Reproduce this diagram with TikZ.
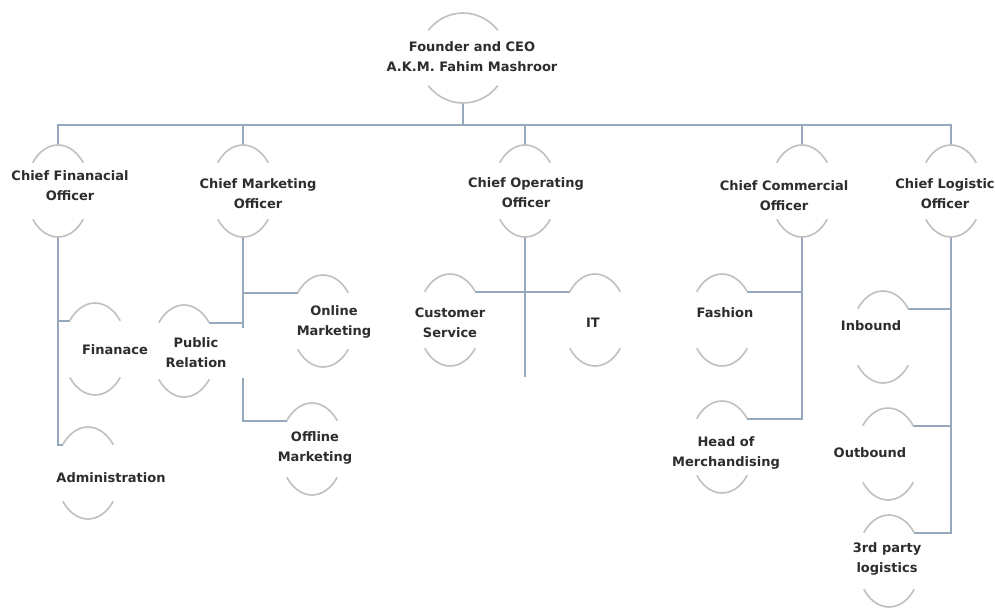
\documentclass[tikz,border=0pt]{standalone}
\usepackage{fontspec}
\setmainfont{DejaVu Sans}
\usetikzlibrary{shapes.geometric}
\definecolor{connc}{RGB}{150,168,188}
\definecolor{arcc}{RGB}{192,192,192}
\definecolor{txtc}{RGB}{45,45,45}
\newcommand\twoarcs[3]{%
  \draw[arcline] ([shift={(38:#2pt and #3pt)}]#1.center) arc[start angle=38,end angle=142,x radius=#2pt,y radius=#3pt];
  \draw[arcline] ([shift={(218:#2pt and #3pt)}]#1.center) arc[start angle=218,end angle=322,x radius=#2pt,y radius=#3pt];}
\begin{document}
\begin{tikzpicture}[x=1pt,y=-1pt,
  hub/.style={ellipse,draw=none,inner sep=0pt,outer sep=0pt,minimum width=64pt,minimum height=92pt},
  conn/.style={draw=connc,line width=1.4pt},
  arcline/.style={draw=arcc,line width=1.6pt},
  txt/.style={font=\fontsize{13}{20}\selectfont\bfseries,text=txtc,align=center,inner sep=0pt}]
\fill[white] (0,0) rectangle (995,611);
\useasboundingbox (0,0) rectangle (995,611);
% circle hubs
\node[hub,minimum width=88pt,minimum height=90pt] (ceo) at (463,58) {};
\node[hub] (cfo) at (58,191) {};
\node[hub] (cmo) at (243,191) {};
\node[hub] (coo) at (525,191) {};
\node[hub] (cco) at (802,191) {};
\node[hub] (clo) at (951,191) {};
\node[hub] (fin) at (95,349) {};
\node[hub] (adm) at (88,473) {};
\node[hub] (pr) at (184,351) {};
\node[hub] (onl) at (323,321) {};
\node[hub] (off) at (312,449) {};
\node[hub] (cs) at (450,320) {};
\node[hub] (it) at (595,320) {};
\node[hub] (fas) at (722,320) {};
\node[hub] (hom) at (722,447) {};
\node[hub] (inb) at (883,337) {};
\node[hub] (outb) at (888,454) {};
\node[hub] (tpl) at (889,561) {};
\coordinate (bus) at (0,125);
\coordinate (cooend) at (525,377);
% connectors
\foreach \n in {cfo,cmo,coo,cco,clo}
  \draw[conn] (ceo.south) -- (ceo.south |- bus) -| (\n.north);
\draw[conn] (cfo.south) |- (fin.132);
\draw[conn] (cfo.south) |- (adm.132);
\draw[conn] (cmo.south) |- (pr.48);
\draw[conn] (cmo.south) |- (onl.132);
\draw[conn] (cmo.south) |- (off.132);
\draw[conn] (coo.south) -- (cooend);
\draw[conn] (coo.south) |- (cs.48);
\draw[conn] (coo.south) |- (it.132);
\draw[conn] (cco.south) |- (fas.48);
\draw[conn] (cco.south) |- (hom.48);
\draw[conn] (clo.south) |- (inb.48);
\draw[conn] (clo.south) |- (outb.48);
\draw[conn] (clo.south) |- (tpl.48);
% labels
\node[txt,fill=white,minimum width=98pt,minimum height=50pt] (pr-t) at (196,353) {Public\\Relation};
\node[txt] (ceo-t) at (472,57) {Founder and CEO\\A.K.M. Fahim Mashroor};
\node[txt] (cfo-t) at (70,186) {Chief Finanacial\\Officer};
\node[txt] (cmo-t) at (258,194) {Chief Marketing\\Officer};
\node[txt] (coo-t) at (526,193) {Chief Operating\\Officer};
\node[txt] (cco-t) at (784,196) {Chief Commercial\\Officer};
\node[txt] (clo-t) at (945,194) {Chief Logistic\\Officer};
\node[txt] (fin-t) at (115,350) {Finanace};
\node[txt] (adm-t) at (111,478) {Administration};
\node[txt] (onl-t) at (334,322) {Online\\Marketing};
\node[txt] (off-t) at (315,447.5) {Offline\\Marketing};
\node[txt] (cs-t) at (450,322.5) {Customer\\Service};
\node[txt] (it-t) at (593,323) {IT};
\node[txt] (fas-t) at (725,313) {Fashion};
\node[txt] (hom-t) at (726,453) {Head of\\Merchandising};
\node[txt] (inb-t) at (871,326) {Inbound};
\node[txt] (outb-t) at (870,453) {Outbound};
\node[txt] (tpl-t) at (887,558.5) {3rd party\\logistics};
% arcs
\twoarcs{ceo}{44}{45}
\foreach \n in {cfo,cmo,coo,cco,clo,fin,adm,pr,onl,off,cs,it,fas,hom,inb,outb,tpl}
  {\twoarcs{\n}{32}{46}}
\end{tikzpicture}
\end{document}
